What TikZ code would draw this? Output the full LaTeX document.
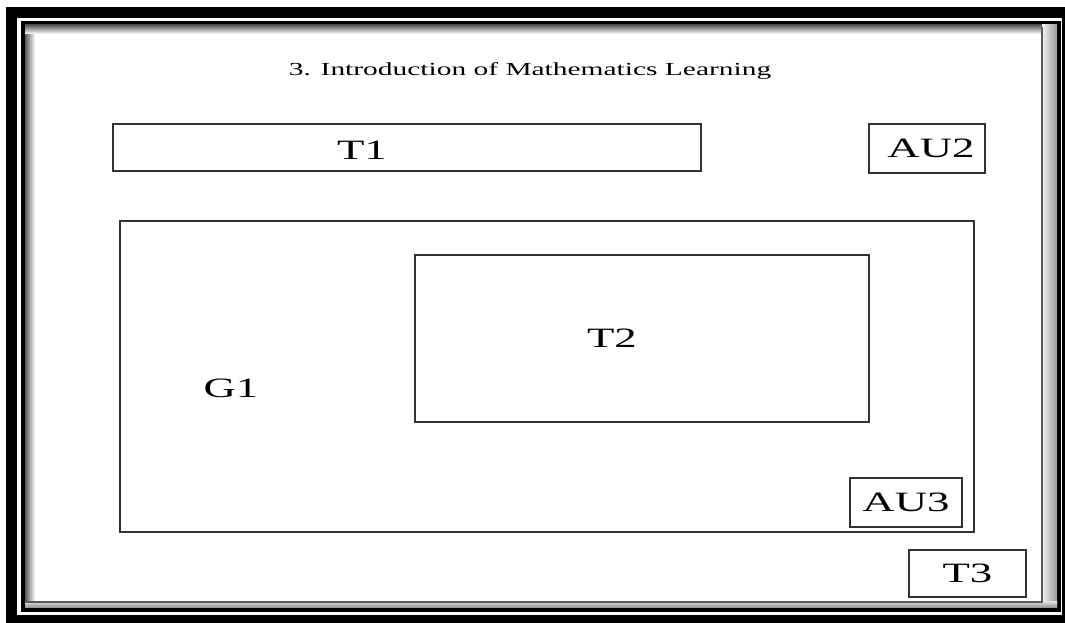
\documentclass[tikz,border=0pt]{standalone}
\usepackage{fontspec}
\setmainfont[FakeStretch=1.6]{Liberation Serif}
\usetikzlibrary{positioning}
\definecolor{framegray}{RGB}{90,90,90}
\definecolor{boxline}{RGB}{50,50,50}

\tikzset{
  box/.style={draw=boxline, line width=1.1pt, inner sep=0pt},
  lbl/.style={font=\fontsize{21}{24}\selectfont, inner sep=0pt},
  ttl/.style={font=\fontsize{13.8}{16}\selectfont, inner sep=0pt}
}

\begin{document}
\begin{tikzpicture}[x=0.75pt, y=-0.75pt]
  \useasboundingbox (0,0) rectangle (1065,623);
  \fill[white] (0,0) rectangle (1065,623);

  % Picture frame
  \begin{scope}
    \clip (0,0) rectangle (1065,623);
    \draw[black, line width=8.25pt] (11.5,12.5) rectangle (1067.5,621);
    \draw[black, line width=3pt] (23,23) rectangle (1059,610);
    \shade[left color=framegray, right color=white] (25,25) rectangle (35,602);
    \shade[top color=framegray, bottom color=white] (25,25) rectangle (1042,34);
    \shade[left color=black!5, right color=black!40] (1042,25) rectangle (1057,608);
    \shade[top color=black!15, bottom color=black!45] (25,602) rectangle (1057,608);
    \draw[framegray, line width=0.8pt] (1042,27) -- (1042,602) -- (25,602);
  \end{scope}

  % Title
  \node[ttl] (title) at (530,71) {3. Introduction of Mathematics Learning};

  % Upper row
  \node[box, minimum width=441pt, minimum height=35.25pt] (t1) at (407,147.5) {};
  \node[lbl] (t1text) at (362,150) {T1};
  \node[box, lbl, minimum width=87pt, minimum height=36.75pt] (au2) at (927,148.5) {\hspace{6pt}AU2};

  % Group box
  \node[box, minimum width=640.5pt, minimum height=233.25pt] (g1) at (547,376.5) {};
  \node[lbl] (g1text) at (231,388) {G1};
  \node[box, minimum width=340.5pt, minimum height=125.25pt] (t2) at (642,338.5) {};
  \node[lbl] (t2text) at (612,338) {T2};
  \node[box, lbl, minimum width=84pt, minimum height=36.75pt] (au3) at (906,502.5) {AU3};

  % Lower corner
  \node[box, lbl, minimum width=87.75pt, minimum height=35.25pt] (t3) at (967.5,573.5) {T3};
\end{tikzpicture}
\end{document}
